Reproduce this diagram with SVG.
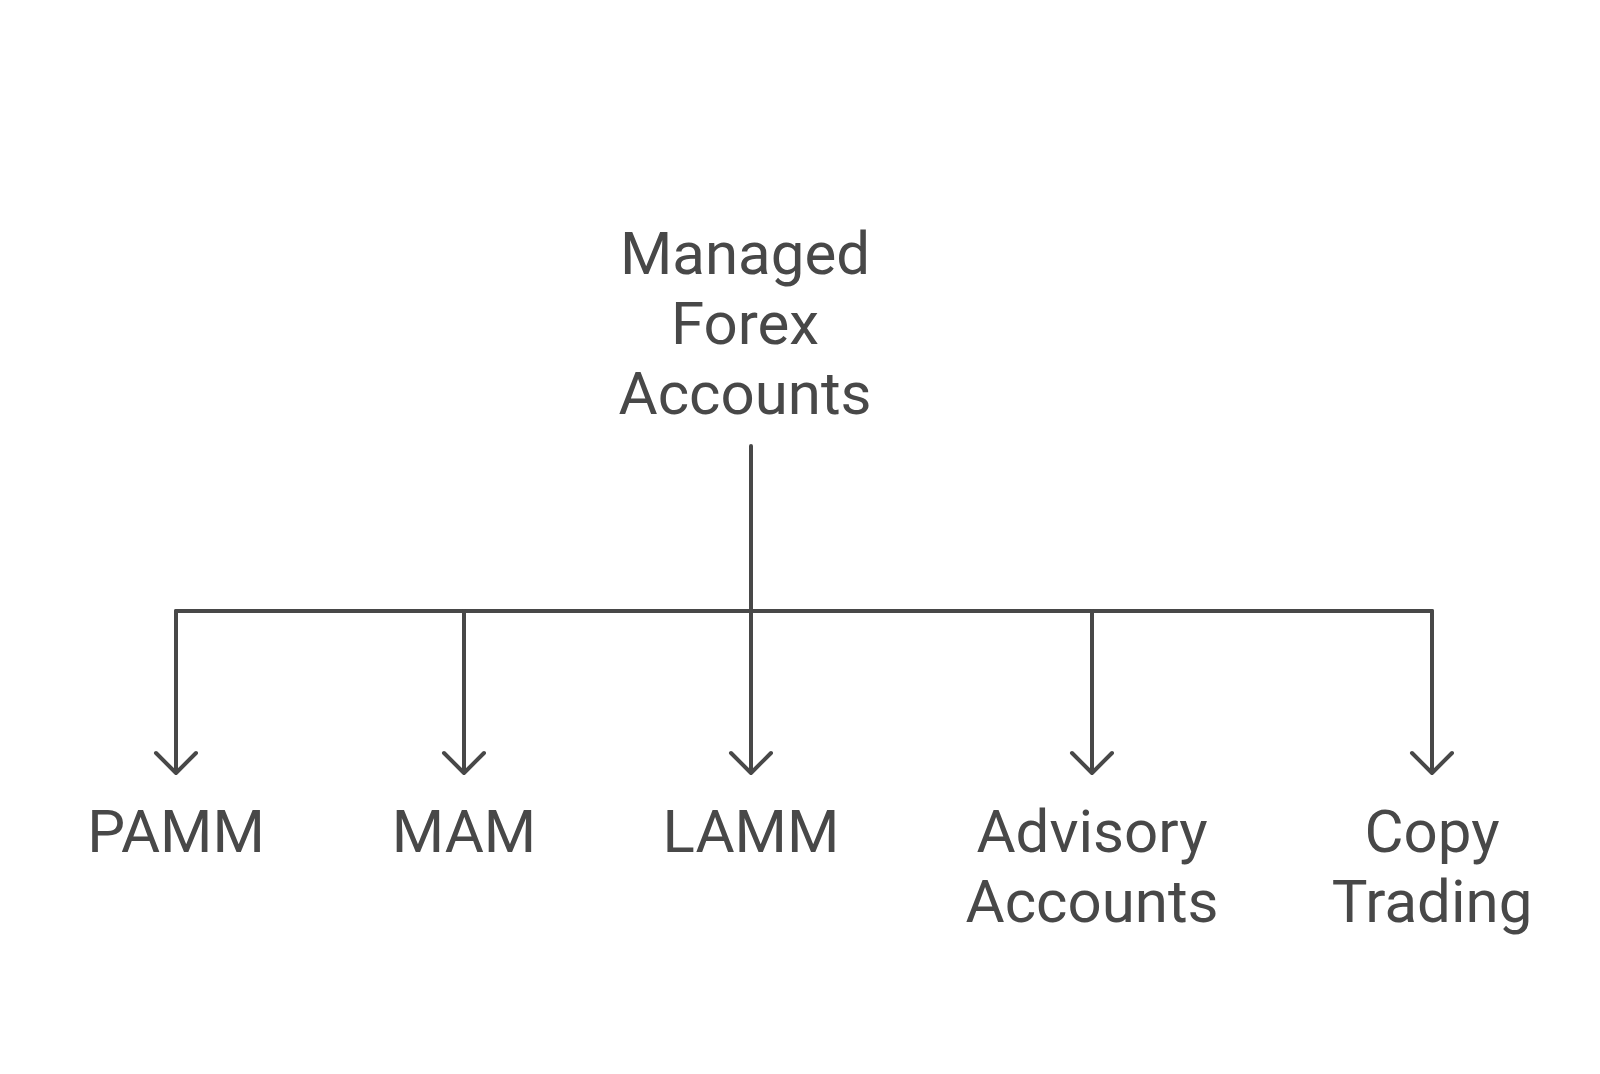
<svg xmlns="http://www.w3.org/2000/svg" width="1600" height="1074" viewBox="0 0 1600 1074">
<style>
text{font-family:Roboto,"Liberation Sans",sans-serif;font-size:60px;fill:#484848;text-anchor:middle}
.c{stroke:#484848;stroke-width:4;fill:none;stroke-linecap:round;stroke-linejoin:round}
</style>
<rect width="1600" height="1074" fill="#fff"/>
<g id="root"><text x="745"><tspan x="745" y="274">Managed</tspan><tspan x="745" y="344">Forex</tspan><tspan x="745" y="414">Accounts</tspan></text></g>
<g id="connectors" class="c">
<path d="M751 446V611M176 611H1432"/>
<path d="M176 611V773M156 753L176 773L196 753"/>
<path d="M464 611V773M444 753L464 773L484 753"/>
<path d="M751 611V773M731 753L751 773L771 753"/>
<path d="M1092 611V773M1072 753L1092 773L1112 753"/>
<path d="M1432 611V773M1412 753L1432 773L1452 753"/>
</g>
<g id="pamm"><text x="176" y="852">PAMM</text></g>
<g id="mam"><text x="464" y="852">MAM</text></g>
<g id="lamm"><text x="751" y="852">LAMM</text></g>
<g id="advisory"><text x="1092" y="852">Advisory</text><text x="1092" y="922">Accounts</text></g>
<g id="copy"><text x="1432" y="852">Copy</text><text x="1432" y="922">Trading</text></g>
</svg>
